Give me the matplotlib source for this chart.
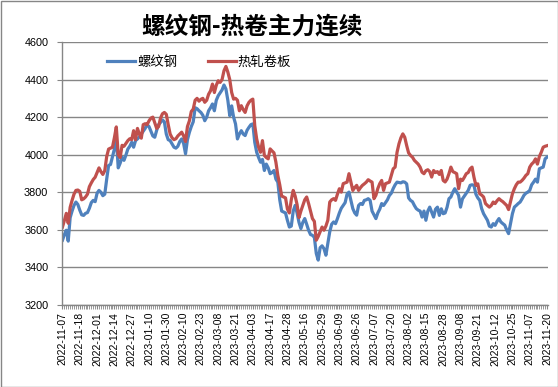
import matplotlib
matplotlib.use('Agg')
import matplotlib.pyplot as plt
from matplotlib.patches import Rectangle
import pandas as pd

plt.rcParams['font.family'] = ['Liberation Sans', 'Noto Sans CJK SC']

# trading days (China futures calendar, weekday holidays removed)
holidays = ['2023-01-02', '2023-01-23', '2023-01-24', '2023-01-25', '2023-01-26',
            '2023-01-27', '2023-04-05', '2023-05-01', '2023-05-02', '2023-05-03',
            '2023-06-22', '2023-06-23', '2023-09-29', '2023-10-02', '2023-10-03',
            '2023-10-04', '2023-10-05', '2023-10-06']
dates = pd.bdate_range('2022-11-07', '2023-11-20', freq='C', holidays=holidays)
date_labels = list(dates.strftime('%Y-%m-%d'))

# 螺纹钢 main contract close
rebar = [3545, 3575, 3598, 3540, 3665, 3700, 3730, 3748, 3735, 3705,
         3680, 3677, 3688, 3692, 3715, 3745, 3757, 3750, 3795, 3810,
         3800, 3782, 3790, 3870, 3943, 3948, 3990, 4030, 4090, 3930,
         3955, 3987, 3970, 3998, 4030, 4045, 4066, 4040, 4075, 4084,
         4095, 4110, 4125, 4140, 4160, 4150, 4125, 4100, 4093, 4130,
         4160, 4172, 4185, 4175, 4110, 4080, 4075, 4058, 4040, 4035,
         4045, 4070, 4084, 4060, 4005, 4080, 4119, 4150, 4175, 4250,
         4245, 4234, 4225, 4210, 4181, 4200, 4234, 4250, 4270, 4234,
         4290, 4314, 4330, 4345, 4371, 4350, 4290, 4208, 4260, 4200,
         4164, 4084, 4110, 4128, 4110, 4102, 4130, 4146, 4160, 4164,
         4066, 4013, 3985, 3960, 3975, 3916, 3950, 3930, 3899, 3905,
         3916, 3870, 3854, 3760, 3700, 3695, 3690, 3650, 3615, 3620,
         3700, 3730, 3690, 3640, 3607, 3640, 3660, 3630, 3598, 3575,
         3571, 3560, 3474, 3439, 3505, 3515, 3500, 3465, 3527, 3590,
         3630, 3642, 3633, 3660, 3690, 3715, 3730, 3745, 3790, 3801,
         3757, 3713, 3690, 3678, 3730, 3740, 3735, 3757, 3760, 3766,
         3757, 3700, 3680, 3660, 3690, 3710, 3740, 3730, 3745, 3760,
         3783, 3795, 3820, 3840, 3854, 3852, 3850, 3856, 3854, 3845,
         3770, 3757, 3750, 3730, 3713, 3705, 3700, 3668, 3700, 3651,
         3700, 3721, 3695, 3668, 3710, 3721, 3677, 3712, 3686, 3690,
         3720, 3766, 3775, 3800, 3819, 3801, 3784, 3721, 3765, 3780,
         3795, 3810, 3837, 3840, 3837, 3790, 3770, 3757, 3713, 3686,
         3668, 3651, 3620, 3615, 3633, 3624, 3645, 3660, 3642, 3633,
         3625, 3600, 3580, 3633, 3686, 3721, 3730, 3740, 3748, 3765,
         3784, 3795, 3801, 3810, 3840, 3854, 3870, 3854, 3925, 3930,
         3934, 3978, 3987]

# 热轧卷板 main contract close
hrc = [3615, 3650, 3688, 3635, 3720, 3757, 3790, 3810, 3812, 3805,
       3760, 3765, 3775, 3790, 3830, 3850, 3868, 3880, 3905, 3930,
       3910, 3895, 3915, 3990, 4030, 4035, 4040, 4090, 4148, 4000,
       3985, 4050, 4045, 4060, 4075, 4085, 4080, 4128, 4080, 4140,
       4110, 4088, 4160, 4165, 4160, 4180, 4195, 4200, 4170, 4140,
       4150, 4195, 4218, 4225, 4215, 4160, 4110, 4090, 4080, 4085,
       4100, 4110, 4120, 4100, 4070, 4150, 4180, 4230, 4243, 4290,
       4300, 4285, 4295, 4300, 4279, 4290, 4322, 4340, 4376, 4331,
       4370, 4394, 4385, 4400, 4447, 4470, 4440, 4400, 4331, 4296,
       4300, 4290, 4234, 4261, 4240, 4225, 4260, 4279, 4290, 4296,
       4155, 4084, 4040, 4013, 4075, 3996, 3985, 3978, 4031, 4020,
       4010, 3960, 3890, 3840, 3780, 3775, 3770, 3710, 3690, 3760,
       3810, 3780, 3735, 3665, 3700, 3730, 3760, 3775, 3740, 3700,
       3660, 3645, 3545, 3565, 3590, 3615, 3598, 3620, 3651, 3748,
       3760, 3766, 3757, 3790, 3819, 3801, 3846, 3850, 3854, 3899,
       3854, 3810, 3825, 3837, 3810, 3825, 3837, 3845, 3854, 3867,
       3860, 3854, 3766, 3784, 3820, 3846, 3863, 3810, 3846, 3850,
       3854, 3890, 3925, 3934, 4013, 4058, 4090, 4111, 4093, 4049,
       4010, 3996, 3987, 3970, 3960, 3950, 3934, 3907, 3899, 3915,
       3920, 3910, 3881, 3916, 3905, 3910, 3895, 3916, 3863, 3855,
       3870, 3899, 3934, 3910, 3905, 3899, 3819, 3870, 3863, 3880,
       3899, 3905, 3925, 3934, 3880, 3837, 3845, 3792, 3785, 3775,
       3740, 3730, 3721, 3730, 3748, 3740, 3755, 3766, 3757, 3750,
       3740, 3730, 3708, 3750, 3792, 3819, 3840, 3854, 3854, 3863,
       3875, 3890, 3899, 3934, 3950, 3960, 3978, 3950, 3990, 4013,
       4040, 4045, 4048]

y_ticks = [3200, 3400, 3600, 3800, 4000, 4200, 4400, 4600]
label_step = 9

grey = '#868686'

fig = plt.figure(figsize=(5.58, 3.87), dpi=100)
ax = fig.add_axes([61.5/558, 82/387, 486.5/558, 263/387])

x = list(range(len(rebar)))
ax.plot(x, rebar, color='#4F81BD', lw=2.3, label='螺纹钢')
ax.plot(x, hrc, color='#C0504D', lw=2.3, label='热轧卷板')

ax.set_ylim(3200, 4600)
ax.set_yticks(y_ticks)
ax.set_xlim(-0.5, len(rebar) - 0.5)
ax.set_xticks(x[::label_step])
ax.set_xticklabels(date_labels[::label_step], rotation=90, fontsize=7.5)
ax.set_xticks(x, minor=True)
ax.tick_params(axis='y', labelsize=7.8, length=3.5, color=grey, pad=6)
ax.tick_params(axis='x', which='both', length=3, color=grey, pad=2)

ax.grid(axis='y', color=grey, lw=1)
ax.set_axisbelow(True)
for s in ['top', 'right']:
    ax.spines[s].set_visible(False)
for s in ['left', 'bottom']:
    ax.spines[s].set_color(grey)
    ax.spines[s].set_linewidth(1)

fig.legend(loc='center left', bbox_to_anchor=(107/558, 1 - 62/387), ncol=2,
           frameon=False, handlelength=2.1, handletextpad=0.15,
           columnspacing=2.3, borderpad=0, borderaxespad=0,
           prop={'family': ['Noto Sans CJK SC'], 'size': 9.6})

fig.text(252/558, 1 - 26/387, '螺纹钢-热卷主力连续', ha='center', va='center',
         fontsize=17, fontweight='bold', family=['Noto Sans CJK SC'])

# chart border
fig.patches.append(Rectangle((0.5/558, 0.5/387), 557/558, 386/387, transform=fig.transFigure,
                             fill=False, edgecolor=grey, lw=1))

fig.savefig('out.png', dpi=100)
